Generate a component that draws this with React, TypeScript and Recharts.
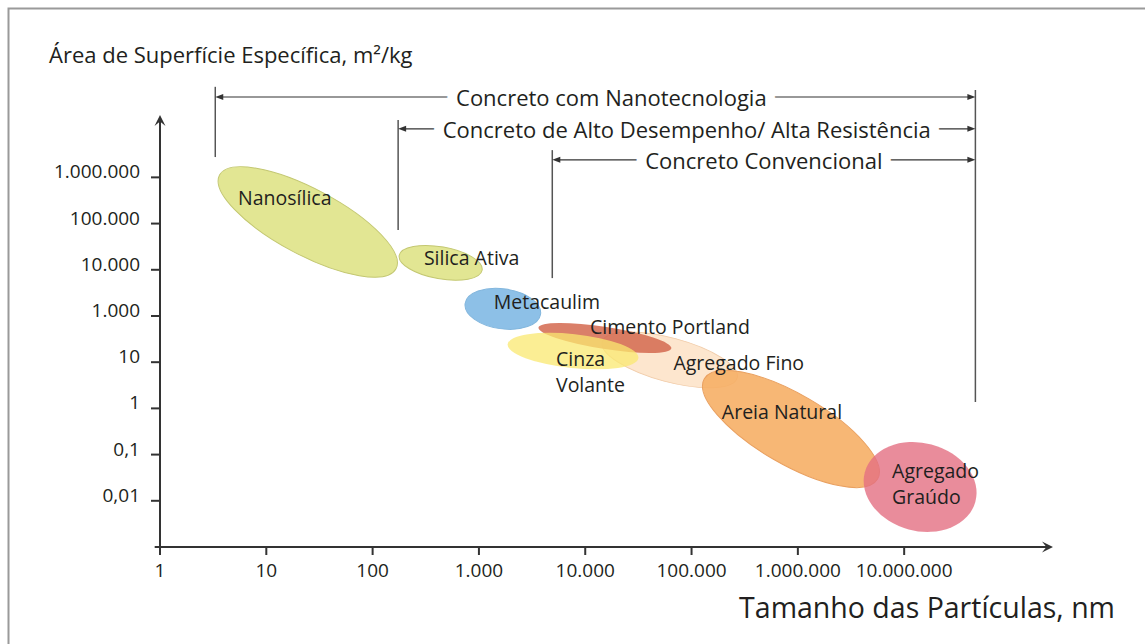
import React from "react";
import {
  ScatterChart,
  Scatter,
  XAxis,
  YAxis,
  ReferenceLine,
  usePlotArea,
} from "recharts";

const FONT = '"Open Sans", "Noto Sans", sans-serif';
const INK = "#221f20";

// x = log10 of particle size (nm), y = row of the surface area scale
const X_DOMAIN = [0, 8.4];
const Y_DOMAIN = [-1, 8.35];

const sizeTicks = [0, 1, 2, 3, 4, 5, 6, 7];
const sizeLabels = ["1", "10", "100", "1.000", "10.000", "100.000", "1.000.000", "10.000.000"];
const areaTicks = [0, 1, 2, 3, 4, 5, 6, 7];
const areaLabels = ["0,01", "0,1", "1", "10", "1.000", "10.000", "100.000", "1.000.000"];

// materials, in drawing order; each ellipse runs from (sizeFrom, areaFrom) to (sizeTo, areaTo)
const materials = [
  "Nanosílica",
  "Silica Ativa",
  "Metacaulim",
  "Agregado Fino",
  "Cimento Portland",
  "Cinza\nVolante",
  "Areia Natural",
  "Agregado\nGraúdo",
];
const sizeFrom = [0.56, 2.25, 2.87, 4.16, 3.56, 3.27, 5.12, 6.63];
const sizeTo = [2.22, 3.03, 3.58, 5.43, 4.81, 4.5, 6.75, 7.67];
const areaFrom = [7.05, 5.31, 4.27, 3.44, 3.75, 3.39, 2.64, 0.62];
const areaTo = [5.02, 4.99, 4.04, 2.66, 3.3, 3.09, 0.47, -0.02];

// concrete classes: size range and the row of the bracket
const concreteTypes = [
  "Concreto com Nanotecnologia",
  "Concreto de Alto Desempenho/ Alta Resistência",
  "Concreto Convencional",
];
const concreteFrom = [0.52, 2.24, 3.69];
const concreteTo = [7.67, 7.67, 7.67];
const bracketRow = [8.74, 8.05, 7.38];
const bracketTop = [8.96, 8.24, 7.59];
const bracketBottom = [7.44, 5.86, 4.82];
const limitTop = 8.89;
const limitBottom = 2.14;

const ellipseLook = [
  { fill: "#e2e693", stroke: "#c3c771", opacity: 1, ry: 33 },
  { fill: "#e2e693", stroke: "#c3c771", opacity: 1, ry: 16 },
  { fill: "#8dc0e7", stroke: "#82b6dd", opacity: 1, ry: 20 },
  { fill: "#fde3c9", stroke: "#f1cca9", opacity: 0.9, ry: 22 },
  { fill: "#d4684f", stroke: "none", opacity: 0.85, ry: 11 },
  { fill: "#fae870", stroke: "none", opacity: 0.75, ry: 17 },
  { fill: "#f6af66", stroke: "#e9a060", opacity: 0.9, ry: 35 },
  { fill: "#e46f82", stroke: "none", opacity: 0.8, ry: 44 },
];
const labelPlace = [
  { dx: -23, dy: -24, anchor: "middle", gap: 0 },
  { dx: 31, dy: -5, anchor: "middle", gap: 0 },
  { dx: 44, dy: -7, anchor: "middle", gap: 0 },
  { dx: 69, dy: 3, anchor: "middle", gap: 0 },
  { dx: 65, dy: -11, anchor: "middle", gap: 0 },
  { dx: -17, dy: 7, anchor: "start", gap: 26 },
  { dx: -9, dy: -17, anchor: "middle", gap: 0 },
  { dx: -28, dy: -16, anchor: "start", gap: 26 },
];
const bracketTextShift = [16, 0, 0];

const rows = materials.map((name, i) => ({
  name,
  i,
  x: (sizeFrom[i] + sizeTo[i]) / 2,
  y: (areaFrom[i] + areaTo[i]) / 2,
  x1: sizeFrom[i],
  x2: sizeTo[i],
  y1: areaFrom[i],
  y2: areaTo[i],
}));

function EllipseShape(props: any) {
  const plot = usePlotArea();
  const { cx, cy, payload } = props;
  if (!plot || cx == null || cy == null) return null;
  const kx = plot.width / (X_DOMAIN[1] - X_DOMAIN[0]);
  const ky = plot.height / (Y_DOMAIN[1] - Y_DOMAIN[0]);
  const dx = (payload.x2 - payload.x1) * kx;
  const dy = -(payload.y2 - payload.y1) * ky;
  const rx = Math.hypot(dx, dy) / 2;
  const angle = (Math.atan2(dy, dx) * 180) / Math.PI;
  const look = ellipseLook[payload.i];
  return (
    <ellipse
      cx={cx}
      cy={cy}
      rx={rx}
      ry={look.ry}
      transform={`rotate(${angle} ${cx} ${cy})`}
      fill={look.fill}
      fillOpacity={look.opacity}
      stroke={look.stroke}
      strokeWidth={1}
    />
  );
}

function MaterialLabel(props: any) {
  const { cx, cy, payload } = props;
  if (cx == null || cy == null) return null;
  const place = labelPlace[payload.i];
  const lines = String(payload.name).split("\n");
  return (
    <g>
      {lines.map((t, k) => (
        <text
          key={k}
          x={cx + place.dx}
          y={cy + place.dy + k * place.gap}
          textAnchor={place.anchor}
          fill={INK}
          fontSize={19.5}
          fontFamily={FONT}
          dominantBaseline="central"
        >
          {t}
        </text>
      ))}
    </g>
  );
}

function SizeTick({ x, y, payload }: any) {
  return (
    <text x={x} y={y} dy={20} textAnchor="middle" fill={INK} fontSize={19} fontFamily={FONT}>
      {sizeLabels[sizeTicks.indexOf(payload.value)]}
    </text>
  );
}

function AreaTick({ x, y, payload }: any) {
  return (
    <text x={x} y={y} dy={1} textAnchor="end" fill={INK} fontSize={19} fontFamily={FONT}>
      {areaLabels[areaTicks.indexOf(payload.value)]}
    </text>
  );
}

// axis line with a filled arrow head at its far end
function AxisArrow({ x1, y1, x2, y2 }: any) {
  const a = Math.atan2(y2 - y1, x2 - x1);
  const c = Math.cos(a);
  const s = Math.sin(a);
  const len = 11;
  const half = 5.5;
  const pts = [
    [x2, y2],
    [x2 - len * c + half * s, y2 - len * s - half * c],
    [x2 - 0.6 * len * c, y2 - 0.6 * len * s],
    [x2 - len * c - half * s, y2 - len * s + half * c],
  ]
    .map((p) => p.join(","))
    .join(" ");
  return (
    <g>
      <line x1={x1} y1={y1} x2={x2 - 4 * c} y2={y2 - 4 * s} stroke="#333" strokeWidth={2} />
      <polygon points={pts} fill="#333" />
    </g>
  );
}

function bracketShape(i: number) {
  return ({ x1, y1, x2, y2 }: any) => {
    const mid = (x1 + x2) / 2 + bracketTextShift[i];
    return (
      <g>
        <line x1={x1 + 4} y1={y1} x2={x2 - 4} y2={y2} stroke="#333" strokeWidth={1.2} />
        <polygon points={`${x1},${y1} ${x1 + 8},${y1 - 3} ${x1 + 8},${y1 + 3}`} fill="#333" />
        <polygon points={`${x2},${y2} ${x2 - 8},${y2 - 3} ${x2 - 8},${y2 + 3}`} fill="#333" />
        <text
          x={mid}
          y={y1}
          dominantBaseline="central"
          textAnchor="middle"
          fontSize={22}
          fontFamily={FONT}
          fill={INK}
          stroke="#fff"
          strokeWidth={20}
          strokeLinejoin="round"
          style={{ paintOrder: "stroke" }}
        >
          {concreteTypes[i]}
        </text>
      </g>
    );
  };
}

export default function App() {
  return (
    <div
      style={{
        position: "absolute",
        left: 0,
        top: 0,
        width: 1145,
        height: 644,
        background: "#fff",
        overflow: "hidden",
      }}
    >
      <ScatterChart
        width={1145}
        height={644}
        margin={{ top: 115, right: 92, bottom: 0, left: 0 }}
      >
        <rect x={8.5} y={8.5} width={1200} height={700} fill="none" stroke="#9a9a9a" strokeWidth={2} />
        <text x={49} y={63} fontSize={22} fontFamily={FONT} fill={INK}>
          Área de Superfície Específica, m²/kg
        </text>
        <text x={1115} y={618} textAnchor="end" fontSize={28.5} fontFamily={FONT} fill={INK}>
          Tamanho das Partículas, nm
        </text>

        <XAxis
          type="number"
          dataKey="x"
          domain={X_DOMAIN}
          ticks={sizeTicks}
          interval={0}
          height={97}
          axisLine={false}
          tickSize={8}
          tickMargin={2}
          tickLine={{ stroke: "#333", strokeWidth: 2 }}
          tick={<SizeTick />}
          allowDataOverflow
        />
        <YAxis
          type="number"
          dataKey="y"
          domain={Y_DOMAIN}
          ticks={areaTicks}
          interval={0}
          width={160}
          axisLine={false}
          tickSize={9}
          tickMargin={11}
          tickLine={{ stroke: "#333", strokeWidth: 2 }}
          tick={<AreaTick />}
          allowDataOverflow
        />

        <Scatter data={rows} shape={<EllipseShape />} isAnimationActive={false} />
        <Scatter data={rows} shape={<MaterialLabel />} isAnimationActive={false} />

        <ReferenceLine
          segment={[{ x: -0.05, y: Y_DOMAIN[0] }, { x: X_DOMAIN[1], y: Y_DOMAIN[0] }]}
          ifOverflow="visible"
          shape={AxisArrow}
        />
        <ReferenceLine
          segment={[{ x: 0, y: -1.07 }, { x: 0, y: Y_DOMAIN[1] }]}
          ifOverflow="visible"
          shape={AxisArrow}
        />

        {concreteTypes.map((t, i) => (
          <ReferenceLine
            key={`v${i}`}
            segment={[{ x: concreteFrom[i], y: bracketTop[i] }, { x: concreteFrom[i], y: bracketBottom[i] }]}
            ifOverflow="visible"
            stroke="#555"
            strokeWidth={1.5}
          />
        ))}
        <ReferenceLine
          segment={[{ x: concreteTo[0], y: limitTop }, { x: concreteTo[0], y: limitBottom }]}
          ifOverflow="visible"
          stroke="#555"
          strokeWidth={1.5}
        />
        {concreteTypes.map((t, i) => (
          <ReferenceLine
            key={`h${i}`}
            segment={[{ x: concreteFrom[i], y: bracketRow[i] }, { x: concreteTo[i], y: bracketRow[i] }]}
            ifOverflow="visible"
            shape={bracketShape(i)}
          />
        ))}
      </ScatterChart>
    </div>
  );
}
